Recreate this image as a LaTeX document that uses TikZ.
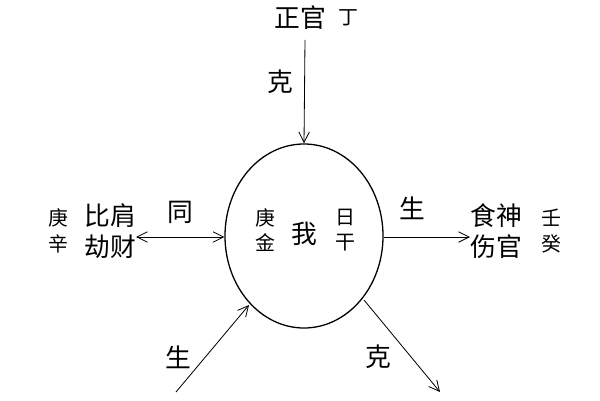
\documentclass[tikz,border=0pt]{standalone}
\usepackage{fontspec}
\usetikzlibrary{shapes.geometric,arrows.meta}
\newfontfamily\cjk{Noto Sans CJK SC}
\begin{document}
\begin{tikzpicture}[x=0.03cm,y=-0.03cm,
  big/.style={font=\cjk\fontsize{22}{26}\selectfont,inner sep=0pt},
  small/.style={font=\cjk\fontsize{17}{22}\selectfont,inner sep=0pt,align=center},
  >={Straight Barb[length=9pt,width=9pt]},
  arr/.style={->,line width=0.7pt}]
\useasboundingbox (0,0) rectangle (600,400);

\node[draw,line width=1.1pt,ellipse,minimum width=4.74cm,minimum height=5.52cm] (me) at (304,236) {};
\node[big] (wo) at (304,234) {我};
\node[small] (gengjin) at (265,230) {庚\\金};
\node[small] (rigan) at (345,230) {日\\干};

\node[big] (zhengguan) at (300,18) {正官};
\node[small] (ding) at (348,18) {丁};
\coordinate (topstart) at (305,40);
\draw[arr] (topstart) -- (me.north);
\node[big] (ke1) at (280,82) {克};

\node[big,align=center] (bijian) at (110,231) {比肩\\劫财};
\node[small] (gengxin) at (58,231) {庚\\辛};
\draw[<->,line width=0.7pt] (bijian.east |- 0,237) -- (me.west |- 0,237);
\node[big] (tong) at (180,212) {同};

\node[big,align=center] (shishen) at (496,231) {食神\\伤官};
\node[small] (rengui) at (551,231) {壬\\癸};
\draw[arr] (me.east |- 0,237) -- (shishen.west |- 0,237);
\node[big] (sheng1) at (412,208) {生};

\coordinate (blstart) at (176,392);
\draw[arr] (blstart) -- (249,305);
\node[big] (sheng2) at (178,357) {生};

\coordinate (brend) at (440,392);
\draw[arr] (364,300) -- (brend);
\node[big] (ke2) at (378,357) {克};
\end{tikzpicture}
\end{document}
